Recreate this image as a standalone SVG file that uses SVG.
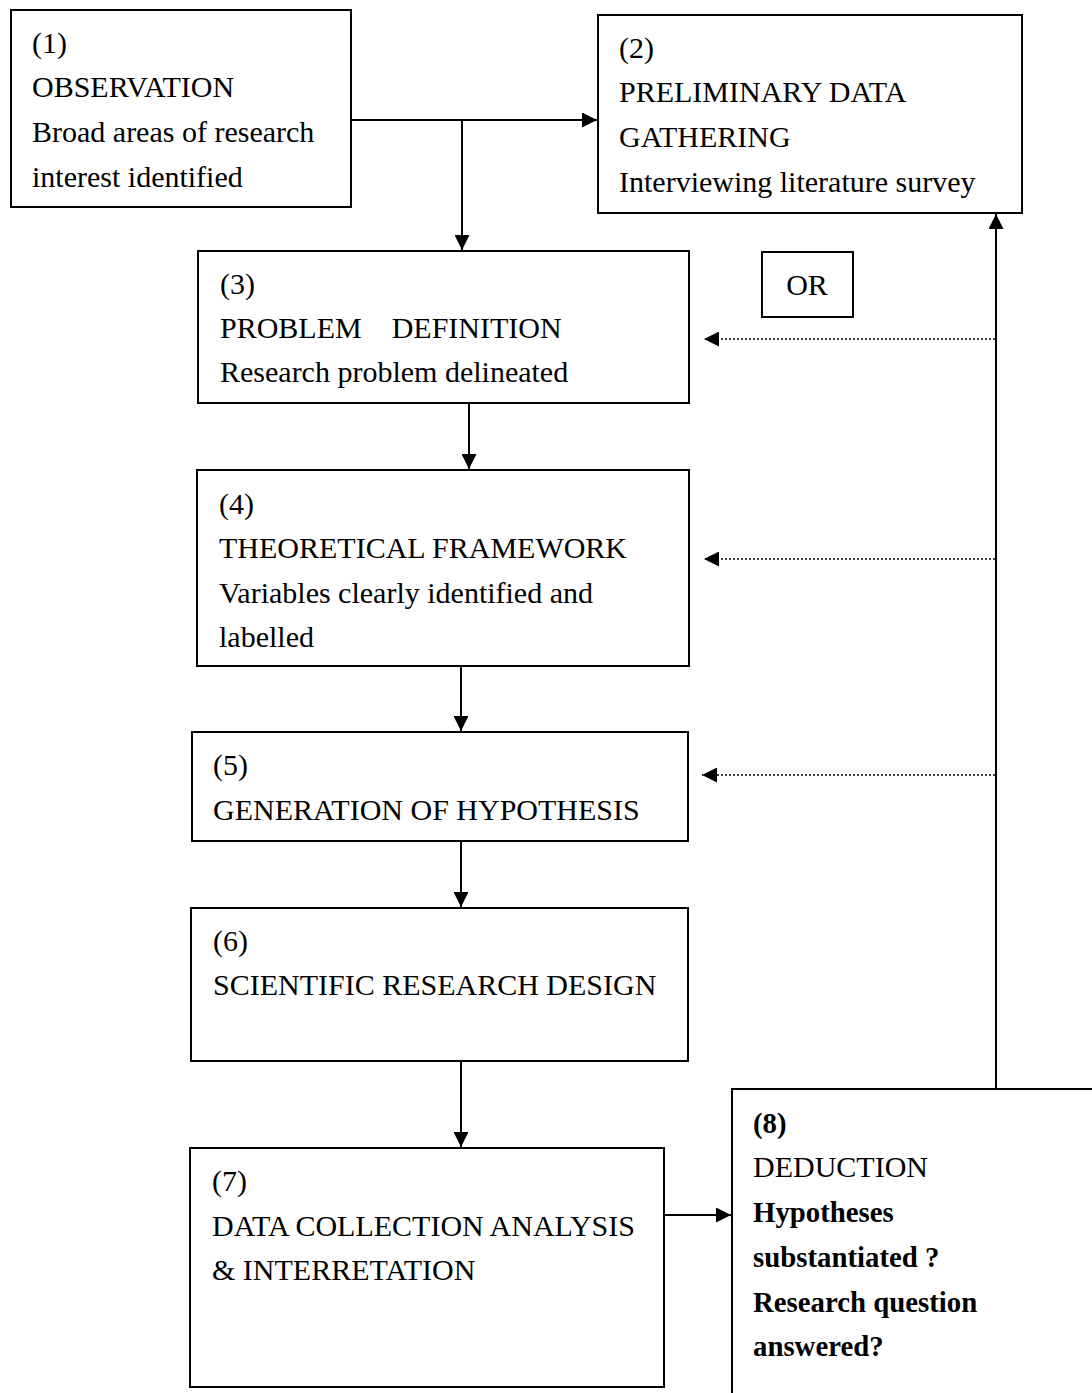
<svg xmlns="http://www.w3.org/2000/svg" width="1092" height="1393" viewBox="0 0 1092 1393">
<style>
.box{fill:#fff;stroke:#000;stroke-width:2}
.t{font-family:"Liberation Serif","Times New Roman",serif;font-size:30px;fill:#000}
.b{font-weight:bold;font-size:28.8px}
.ln{stroke:#000;stroke-width:2;fill:none}
.dt{stroke:#000;stroke-width:1.6;fill:none;stroke-dasharray:2 2}
</style>
<defs>
<marker id="ah" viewBox="0 0 10 10" refX="10" refY="5" markerWidth="16" markerHeight="15" markerUnits="userSpaceOnUse" orient="auto">
<path d="M0,0 L10,5 L0,10 Z" fill="#000"/>
</marker>
</defs>
<rect width="1092" height="1393" fill="#fff"/>
<g id="connectors">
<path class="ln" d="M351,120 H597" marker-end="url(#ah)"/>
<path class="ln" d="M462,120 V250" marker-end="url(#ah)"/>
<path class="ln" d="M469,403 V469" marker-end="url(#ah)"/>
<path class="ln" d="M461,666 V731" marker-end="url(#ah)"/>
<path class="ln" d="M461,841 V907" marker-end="url(#ah)"/>
<path class="ln" d="M461,1061 V1147" marker-end="url(#ah)"/>
<path class="ln" d="M664,1215 H731" marker-end="url(#ah)"/>
<path class="ln" d="M996,1089 V214" marker-end="url(#ah)"/>
<path class="dt" d="M995,339 H704" marker-end="url(#ah)"/>
<path class="dt" d="M995,559 H704" marker-end="url(#ah)"/>
<path class="dt" d="M995,775 H702" marker-end="url(#ah)"/>
</g>
<g id="n1">
<rect class="box" x="11" y="10" width="340" height="197"/>
<text class="t" x="32" y="53">(1)</text>
<text class="t" x="32" y="97">OBSERVATION</text>
<text class="t" x="32" y="142">Broad areas of research</text>
<text class="t" x="32" y="187">interest identified</text>
</g>
<g id="n2">
<rect class="box" x="598" y="15" width="424" height="198"/>
<text class="t" x="619" y="58">(2)</text>
<text class="t" x="619" y="102">PRELIMINARY DATA</text>
<text class="t" x="619" y="147">GATHERING</text>
<text class="t" x="619" y="192">Interviewing literature survey</text>
</g>
<g id="or">
<rect class="box" x="762" y="252" width="91" height="65"/>
<text class="t" x="807" y="295" text-anchor="middle">OR</text>
</g>
<g id="n3">
<rect class="box" x="198" y="251" width="491" height="152"/>
<text class="t" x="220" y="294">(3)</text>
<text class="t" x="220" y="338" xml:space="preserve">PROBLEM    DEFINITION</text>
<text class="t" x="220" y="382">Research problem delineated</text>
</g>
<g id="n4">
<rect class="box" x="197" y="470" width="492" height="196"/>
<text class="t" x="219" y="514">(4)</text>
<text class="t" x="219" y="558">THEORETICAL FRAMEWORK</text>
<text class="t" x="219" y="603">Variables clearly identified and</text>
<text class="t" x="219" y="647">labelled</text>
</g>
<g id="n5">
<rect class="box" x="192" y="732" width="496" height="109"/>
<text class="t" x="213" y="775">(5)</text>
<text class="t" x="213" y="820">GENERATION OF HYPOTHESIS</text>
</g>
<g id="n6">
<rect class="box" x="191" y="908" width="497" height="153"/>
<text class="t" x="213" y="951">(6)</text>
<text class="t" x="213" y="995">SCIENTIFIC RESEARCH DESIGN</text>
</g>
<g id="n7">
<rect class="box" x="190" y="1148" width="474" height="239"/>
<text class="t" x="212" y="1191">(7)</text>
<text class="t" x="212" y="1236">DATA COLLECTION ANALYSIS</text>
<text class="t" x="212" y="1280">&amp; INTERRETATION</text>
</g>
<g id="n8">
<rect class="box" x="732" y="1089" width="400" height="400"/>
<text class="t b" x="753" y="1133">(8)</text>
<text class="t" x="753" y="1177">DEDUCTION</text>
<text class="t b" x="753" y="1222">Hypotheses</text>
<text class="t b" x="753" y="1267">substantiated ?</text>
<text class="t b" x="753" y="1312">Research question</text>
<text class="t b" x="753" y="1356">answered?</text>
</g>
</svg>
